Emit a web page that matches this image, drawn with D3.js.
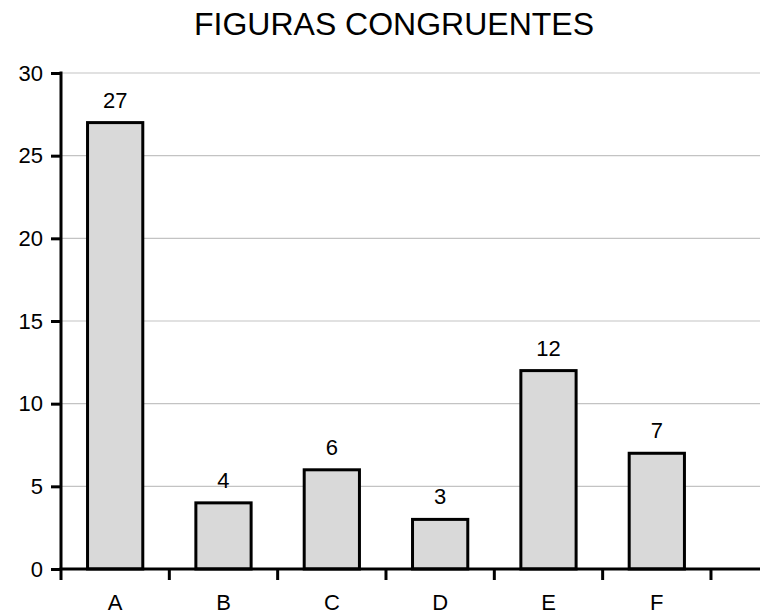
<!DOCTYPE html>
<html>
<head>
<meta charset="utf-8">
<script src="https://cdn.jsdelivr.net/npm/d3@7"></script>
<style>
  html, body { margin: 0; padding: 0; background: #fff; }
  svg { display: block; font-family: "Liberation Sans", Arial, sans-serif; }
</style>
</head>
<body>
<script>
// Chart data
const categories = ["A", "B", "C", "D", "E", "F"];
const values = [27, 4, 6, 3, 12, 7];
const yTicks = [0, 5, 10, 15, 20, 25, 30];
const title = "FIGURAS CONGRUENTES";

const W = 760, H = 614;
const plotLeft = 61, plotTop = 73, plotBottom = 569;
const band = 108.33;
const fontSize = 22;

const svg = d3.select("body").append("svg")
  .attr("width", W).attr("height", H);

// Plot area continues past the right edge, so add one empty slot after F
const slots = categories.concat([""]);
const x = d3.scaleBand()
  .domain(slots)
  .range([plotLeft, plotLeft + band * slots.length])
  .paddingInner(0.49).paddingOuter(0.245);

const y = d3.scaleLinear().domain([0, 30]).range([plotBottom, plotTop]);

// Horizontal gridlines
svg.append("g")
  .selectAll("line")
  .data(yTicks.filter(d => d > 0))
  .join("line")
  .attr("x1", plotLeft).attr("x2", W)
  .attr("y1", d => y(d)).attr("y2", d => y(d))
  .attr("stroke", "#c3c3c3").attr("stroke-width", 1.2);

// Bars
svg.append("g")
  .selectAll("rect")
  .data(values)
  .join("rect")
  .attr("x", (d, i) => x(categories[i]))
  .attr("y", d => y(d))
  .attr("width", x.bandwidth())
  .attr("height", d => y(0) - y(d))
  .attr("fill", "#d9d9d9")
  .attr("stroke", "#000")
  .attr("stroke-width", 3);

// Value labels
svg.append("g")
  .selectAll("text")
  .data(values)
  .join("text")
  .attr("x", (d, i) => x(categories[i]) + x.bandwidth() / 2)
  .attr("y", d => y(d) - 15)
  .attr("text-anchor", "middle")
  .attr("font-size", fontSize)
  .attr("fill", "#000")
  .text(d => d);

// Y axis
const yAxis = d3.axisLeft(y).tickValues(yTicks).tickSize(10).tickPadding(8);
const gy = svg.append("g").attr("transform", `translate(${plotLeft},0)`).call(yAxis);
gy.select(".domain").attr("stroke", "#000").attr("stroke-width", 3)
  .attr("d", `M0,${plotTop - 1.5}V${plotBottom}`);
gy.selectAll(".tick line").attr("stroke", "#000").attr("stroke-width", 3);
gy.selectAll(".tick text").attr("font-size", fontSize).attr("fill", "#000")
  .attr("font-family", "Liberation Sans, Arial, sans-serif");

// X axis: boundary ticks between categories, labels centred in each slot
const xg = svg.append("g");
xg.append("line")
  .attr("x1", plotLeft - 1.5).attr("x2", W)
  .attr("y1", plotBottom).attr("y2", plotBottom)
  .attr("stroke", "#000").attr("stroke-width", 3);
xg.selectAll("line.tick")
  .data(d3.range(slots.length + 1))
  .join("line")
  .attr("class", "tick")
  .attr("x1", i => plotLeft + band * i).attr("x2", i => plotLeft + band * i)
  .attr("y1", plotBottom).attr("y2", plotBottom + 11)
  .attr("stroke", "#000").attr("stroke-width", 3);
xg.selectAll("text")
  .data(categories)
  .join("text")
  .attr("x", d => x(d) + x.bandwidth() / 2)
  .attr("y", 610)
  .attr("text-anchor", "middle")
  .attr("font-size", fontSize)
  .attr("fill", "#000")
  .text(d => d);

// Title
svg.append("text")
  .attr("x", 394).attr("y", 35)
  .attr("text-anchor", "middle")
  .attr("font-size", 32)
  .attr("fill", "#000")
  .text(title);
</script>
</body>
</html>
